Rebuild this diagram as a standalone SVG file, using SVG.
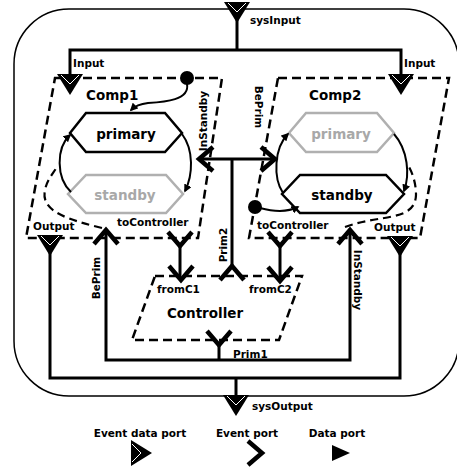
<svg xmlns="http://www.w3.org/2000/svg" xmlns:xlink="http://www.w3.org/1999/xlink" width="457" height="472" viewBox="0 0 457 472">
<style>
text{font-family:"DejaVu Sans","Liberation Sans",sans-serif;font-weight:bold;fill:#000}
.sm{font-size:10.5px}
.lg{font-size:13.5px}
.mid{text-anchor:middle}
.gt{fill:#a8a8a8}
.comp{fill:none;stroke:#000;stroke-width:2.5;stroke-dasharray:9,5}
.conn{fill:none;stroke:#000;stroke-width:3}
.hex{fill:none;stroke:#000;stroke-width:2.5}
.hexg{fill:none;stroke:#b0b0b0;stroke-width:2.5}
.tr{fill:none;stroke:#000;stroke-width:2;marker-end:url(#arr)}
.trig{fill:none;stroke:#000;stroke-width:2.2;stroke-dasharray:8,5}
.ev{fill:none;stroke:#000;stroke-width:4.5;stroke-linejoin:miter}
</style>
<defs>
<marker id="arr" viewBox="0 0 10 10" refX="8" refY="5" markerWidth="4" markerHeight="4" orient="auto" markerUnits="strokeWidth">
<path d="M0,0 L10,5 L0,10 Z" fill="#000"/>
</marker>
<g id="edp">
<path d="M-13,-10 L13,-10 L0,11 Z" fill="#000"/>
<path d="M-9,-9 L0,0 L9,-9" fill="none" stroke="#fff" stroke-width="1"/>
</g>
<path id="evp" class="ev" d="M-12,-7 L0,7 L12,-7"/>
</defs>

<rect x="14" y="9" width="445" height="387" rx="55" ry="55" fill="none" stroke="#000" stroke-width="1.5"/>

<g id="connectors">
<path class="conn" d="M70,76 V50 H401 V76"/>
<path class="conn" d="M237,20 V50"/>
<path class="conn" d="M50,253 V378 H400 V253"/>
<path class="conn" d="M236,378 V396"/>
<path class="conn" d="M106,231 V360 H350 V231"/>
<path class="conn" d="M219,345 V360"/>
<path class="conn" d="M232,268 V159"/>
<path class="conn" d="M201,159 H273"/>
<path class="conn" d="M180,244 V279"/>
<path class="conn" d="M280,244 V280"/>
</g>

<g id="sys">
<use xlink:href="#edp" href="#edp" transform="translate(237,12)"/>
<text class="sm" x="250" y="24">sysInput</text>
<use xlink:href="#edp" href="#edp" transform="translate(236,405)"/>
<text class="sm" x="252" y="410">sysOutput</text>
</g>

<g id="comp1">
<path class="comp" d="M55,78 H222 L198,238 H26 Z"/>
<text class="lg" x="86" y="100">Comp1</text>
<polygon class="hex" points="70,133 86,113 165,113 182,133 165,152 86,152"/>
<text class="lg mid" x="126" y="139">primary</text>
<polygon class="hexg" points="68,194 86,175 166,175 183,194 166,213 86,213"/>
<text class="lg mid gt" x="125" y="200">standby</text>
<circle cx="187" cy="78" r="7" fill="#000"/>
<path class="tr" d="M187,84 C190,100 165,102 148,103 C140,104 135,106 131,110"/>
<path class="tr" d="M71,192 C56,178 56,148 70,135"/>
<path class="tr" d="M182,134 C194,150 193,175 185,191"/>
<path class="trig" d="M102,228 C70,220 40,212 45,190 C47,180 52,175 57,167"/>
<use xlink:href="#edp" href="#edp" transform="translate(70,84)"/>
<text class="sm" x="73" y="67">Input</text>
<use xlink:href="#edp" href="#edp" transform="translate(50,245)"/>
<text class="sm" x="33" y="230">Output</text>
<use xlink:href="#evp" href="#evp" transform="translate(180,239)"/>
<text class="sm" x="117" y="226">toController</text>
<use xlink:href="#evp" href="#evp" transform="translate(106,237) rotate(180)"/>
<text class="sm mid" transform="translate(100,278) rotate(-90)">BePrim</text>
<use xlink:href="#evp" href="#evp" transform="translate(206,159) rotate(90)"/>
<text class="sm mid" transform="translate(207,121) rotate(-90)">InStandby</text>
</g>

<g id="comp2">
<path class="comp" d="M278,78 H449 L420,238 H249 Z"/>
<text class="lg" x="309" y="100">Comp2</text>
<polygon class="hexg" points="289,133 306,113 377,113 394,133 377,152 306,152"/>
<text class="lg mid gt" x="341" y="139">primary</text>
<polygon class="hex" points="282,194 300,175 386,175 404,194 386,213 300,213"/>
<text class="lg mid" x="342" y="200">standby</text>
<circle cx="255" cy="207" r="7" fill="#000"/>
<path class="tr" d="M260,208 C275,212 288,212 298,207"/>
<path class="tr" d="M283,193 C273,178 274,148 288,134"/>
<path class="tr" d="M394,134 C408,150 410,175 404,191"/>
<path class="trig" d="M345,227 C380,214 415,222 416,195 C416,182 412,172 408,165"/>
<use xlink:href="#edp" href="#edp" transform="translate(401,84)"/>
<text class="sm" x="404" y="67">Input</text>
<use xlink:href="#edp" href="#edp" transform="translate(400,246)"/>
<text class="sm" x="374" y="231">Output</text>
<use xlink:href="#evp" href="#evp" transform="translate(280,239)"/>
<text class="sm" x="257" y="229">toController</text>
<use xlink:href="#evp" href="#evp" transform="translate(350,237) rotate(180)"/>
<text class="sm mid" transform="translate(354,280) rotate(90)">InStandby</text>
<use xlink:href="#evp" href="#evp" transform="translate(268,159) rotate(-90)"/>
<text class="sm mid" transform="translate(255,107) rotate(90)">BePrim</text>
</g>

<g id="controller">
<path class="comp" d="M155,276 H302 L279,340 H132 Z"/>
<text class="lg mid" x="205" y="318">Controller</text>
<use xlink:href="#evp" href="#evp" transform="translate(181,273)"/>
<text class="sm" x="157" y="293">fromC1</text>
<use xlink:href="#evp" href="#evp" transform="translate(280,274)"/>
<text class="sm" x="249" y="293">fromC2</text>
<use xlink:href="#evp" href="#evp" transform="translate(232,273) rotate(180)"/>
<text class="sm mid" transform="translate(227,245) rotate(-90)">Prim2</text>
<use xlink:href="#evp" href="#evp" transform="translate(219,338)"/>
<text class="sm" x="233" y="358">Prim1</text>
</g>

<g id="legend">
<text class="sm mid" x="140" y="437">Event data port</text>
<use xlink:href="#edp" href="#edp" transform="translate(141,453) rotate(-90)"/>
<text class="sm mid" x="247" y="437">Event port</text>
<use xlink:href="#evp" href="#evp" transform="translate(255,453) rotate(-90)"/>
<text class="sm mid" x="337" y="437">Data port</text>
<path d="M332,445 L350,453 L332,461 Z" fill="#000"/>
</g>
</svg>
